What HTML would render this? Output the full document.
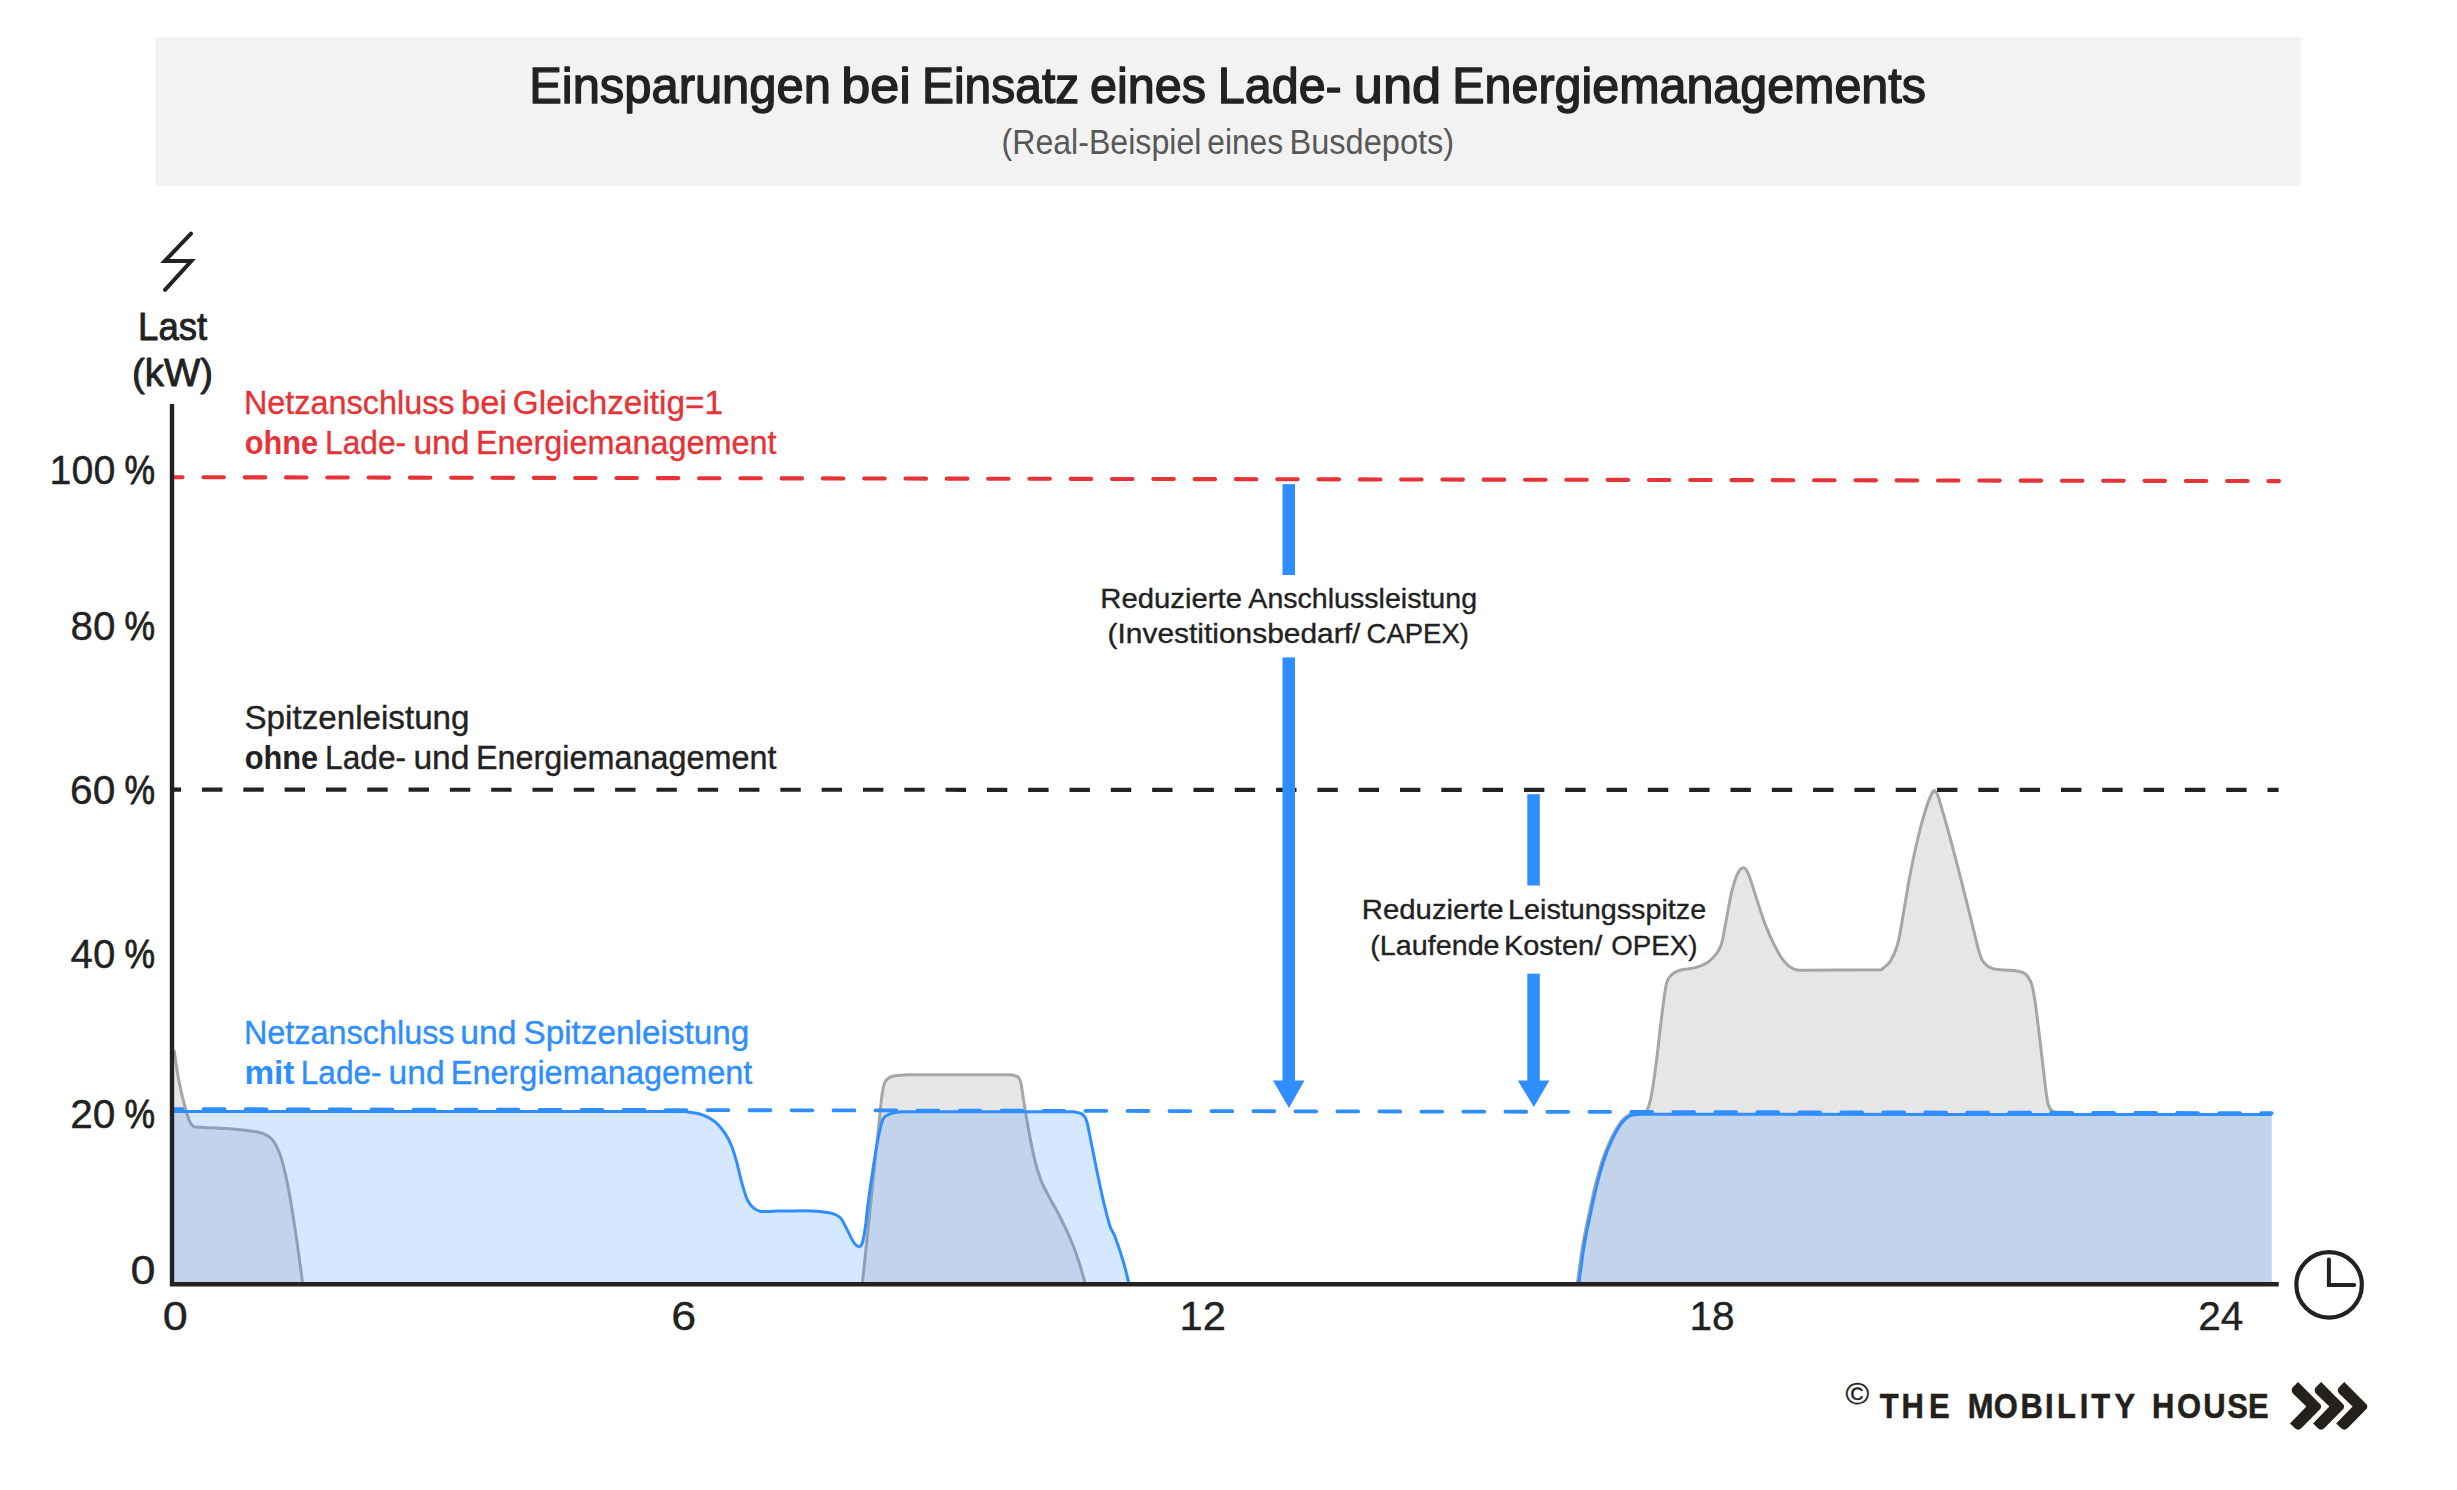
<!DOCTYPE html>
<html lang="de">
<head>
<meta charset="utf-8">
<title>Einsparungen bei Einsatz eines Lade- und Energiemanagements</title>
<style>
html,body{margin:0;padding:0;background:#ffffff;}
body{width:2457px;height:1490px;overflow:hidden;}
svg{display:block;}
text{font-family:"Liberation Sans",sans-serif;}
</style>
</head>
<body>
<svg width="2457" height="1490" viewBox="0 0 2457 1490">
<rect x="155.5" y="37" width="2145.5" height="149" fill="#f2f2f2"/>
<path d="M174.1,1050.1 C174.9,1055.1 176.9,1070.5 178.8,1080.2 C180.7,1089.9 183.5,1101.3 185.4,1108.3 C187.3,1115.3 188.7,1119.3 190.1,1122.4 C191.5,1125.5 193.2,1126.1 193.8,1126.8 C199.1,1127.1 216.4,1127.9 225.8,1128.6 C235.2,1129.3 243.9,1130.1 250.2,1130.9 C256.5,1131.8 259.6,1132.1 263.4,1133.7 C267.2,1135.3 270.0,1136.7 272.8,1140.3 C275.6,1143.9 277.8,1147.8 280.3,1155.3 C282.8,1162.8 285.3,1172.9 287.8,1185.4 C290.3,1197.9 292.9,1214.4 295.3,1230.5 C297.8,1246.6 301.3,1273.6 302.5,1282.2 L302.5,1282.2 L174.1,1282.2 Z" fill="#e6e6e6" stroke="none"/>
<path d="M174.1,1050.1 C174.9,1055.1 176.9,1070.5 178.8,1080.2 C180.7,1089.9 183.5,1101.3 185.4,1108.3 C187.3,1115.3 188.7,1119.3 190.1,1122.4 C191.5,1125.5 193.2,1126.1 193.8,1126.8 C199.1,1127.1 216.4,1127.9 225.8,1128.6 C235.2,1129.3 243.9,1130.1 250.2,1130.9 C256.5,1131.8 259.6,1132.1 263.4,1133.7 C267.2,1135.3 270.0,1136.7 272.8,1140.3 C275.6,1143.9 277.8,1147.8 280.3,1155.3 C282.8,1162.8 285.3,1172.9 287.8,1185.4 C290.3,1197.9 292.9,1214.4 295.3,1230.5 C297.8,1246.6 301.3,1273.6 302.5,1282.2" fill="none" stroke="#a6a6a6" stroke-width="3" stroke-linejoin="round"/>

<path d="M862.5,1282.2 C863.8,1270.1 867.7,1232.4 870.1,1209.4 C872.5,1186.4 875.0,1161.6 876.8,1144.0 C878.6,1126.4 879.9,1113.4 881.0,1103.7 C882.1,1094.0 882.5,1090.1 883.5,1086.1 C884.5,1082.0 885.1,1081.1 886.8,1079.4 C888.5,1077.7 890.2,1076.8 893.6,1076.0 C897.0,1075.2 904.8,1075.0 907.0,1074.8 C923.8,1074.8 990.9,1074.8 1007.7,1074.8 C1008.9,1074.9 1013.1,1075.0 1015.0,1075.6 C1016.9,1076.2 1018.2,1076.9 1019.3,1078.5 C1020.3,1080.1 1020.6,1081.4 1021.3,1085.0 C1022.0,1088.6 1022.5,1093.5 1023.6,1100.3 C1024.7,1107.0 1026.0,1115.7 1027.8,1125.5 C1029.6,1135.3 1032.3,1149.9 1034.5,1159.1 C1036.7,1168.3 1038.7,1174.5 1041.2,1180.9 C1043.7,1187.3 1046.2,1191.3 1049.6,1197.7 C1052.9,1204.1 1057.7,1212.2 1061.3,1219.5 C1064.9,1226.8 1068.3,1233.8 1071.4,1241.3 C1074.5,1248.8 1077.6,1258.0 1079.8,1264.8 C1082.0,1271.6 1084.0,1279.3 1084.8,1282.2 L1084.8,1282.2 L862.5,1282.2 Z" fill="#e6e6e6" stroke="none"/>
<path d="M862.5,1282.2 C863.8,1270.1 867.7,1232.4 870.1,1209.4 C872.5,1186.4 875.0,1161.6 876.8,1144.0 C878.6,1126.4 879.9,1113.4 881.0,1103.7 C882.1,1094.0 882.5,1090.1 883.5,1086.1 C884.5,1082.0 885.1,1081.1 886.8,1079.4 C888.5,1077.7 890.2,1076.8 893.6,1076.0 C897.0,1075.2 904.8,1075.0 907.0,1074.8 C923.8,1074.8 990.9,1074.8 1007.7,1074.8 C1008.9,1074.9 1013.1,1075.0 1015.0,1075.6 C1016.9,1076.2 1018.2,1076.9 1019.3,1078.5 C1020.3,1080.1 1020.6,1081.4 1021.3,1085.0 C1022.0,1088.6 1022.5,1093.5 1023.6,1100.3 C1024.7,1107.0 1026.0,1115.7 1027.8,1125.5 C1029.6,1135.3 1032.3,1149.9 1034.5,1159.1 C1036.7,1168.3 1038.7,1174.5 1041.2,1180.9 C1043.7,1187.3 1046.2,1191.3 1049.6,1197.7 C1052.9,1204.1 1057.7,1212.2 1061.3,1219.5 C1064.9,1226.8 1068.3,1233.8 1071.4,1241.3 C1074.5,1248.8 1077.6,1258.0 1079.8,1264.8 C1082.0,1271.6 1084.0,1279.3 1084.8,1282.2" fill="none" stroke="#a6a6a6" stroke-width="3" stroke-linejoin="round"/>

<path d="M1577.5,1282.2 C1578.4,1276.0 1580.8,1256.8 1582.7,1245.3 C1584.6,1233.8 1586.9,1223.3 1589.1,1213.1 C1591.2,1202.9 1593.2,1193.5 1595.6,1184.1 C1598.0,1174.7 1600.9,1164.5 1603.6,1156.7 C1606.3,1148.9 1609.0,1142.8 1611.7,1137.3 C1614.4,1131.8 1617.2,1127.1 1619.7,1123.6 C1622.2,1120.1 1624.1,1118.3 1626.5,1116.5 C1628.9,1114.7 1631.4,1113.3 1634.0,1112.5 C1636.6,1111.7 1639.8,1111.8 1642.0,1111.5 C1644.2,1111.2 1645.3,1113.6 1646.9,1110.6 C1648.5,1107.6 1650.1,1102.2 1651.7,1093.7 C1653.3,1085.2 1655.0,1072.4 1656.6,1059.9 C1658.2,1047.4 1659.8,1031.3 1661.4,1018.8 C1663.0,1006.3 1664.6,992.2 1666.2,985.0 C1667.8,977.8 1668.7,977.8 1671.1,975.3 C1673.5,972.8 1676.7,971.3 1680.7,970.0 C1684.7,968.7 1690.4,969.1 1695.2,967.6 C1700.0,966.1 1705.5,964.3 1709.7,960.8 C1713.9,957.2 1718.0,952.3 1720.6,946.3 C1723.2,940.3 1723.6,933.5 1725.4,924.6 C1727.2,915.8 1729.4,901.7 1731.4,893.2 C1733.4,884.8 1735.5,878.1 1737.5,873.9 C1739.5,869.7 1741.7,867.8 1743.5,867.8 C1745.3,867.8 1746.4,869.3 1748.4,873.9 C1750.4,878.5 1752.8,887.1 1755.6,895.6 C1758.4,904.1 1762.1,916.2 1765.3,924.6 C1768.5,933.0 1771.7,940.1 1774.9,946.3 C1778.1,952.5 1781.4,958.2 1784.6,962.0 C1787.8,965.8 1791.1,967.9 1794.3,969.3 C1797.5,970.7 1802.3,970.1 1803.9,970.2 C1816.8,970.1 1868.3,969.9 1881.2,969.8 C1882.8,968.3 1887.8,965.3 1890.5,961.0 C1893.2,956.7 1895.6,951.7 1897.7,944.0 C1899.8,936.3 1901.2,926.3 1903.2,915.0 C1905.2,903.7 1907.4,888.7 1909.8,876.0 C1912.2,863.3 1915.1,850.0 1917.7,839.0 C1920.3,828.0 1923.3,817.3 1925.6,809.8 C1927.9,802.3 1930.0,797.2 1931.5,794.0 C1933.0,790.8 1933.9,791.1 1934.4,790.5 C1934.9,791.1 1936.3,792.2 1937.2,794.0 C1938.1,795.8 1937.7,794.5 1939.7,801.4 C1941.7,808.3 1945.8,821.9 1949.4,835.2 C1953.0,848.5 1957.6,866.2 1961.4,881.1 C1965.2,896.0 1969.3,912.5 1972.3,924.6 C1975.3,936.7 1977.6,947.2 1979.6,953.6 C1981.6,960.0 1982.2,960.7 1984.4,963.2 C1986.6,965.7 1989.5,967.5 1992.9,968.6 C1996.3,969.7 2000.9,969.6 2004.9,970.0 C2008.9,970.4 2013.6,970.3 2017.0,971.0 C2020.4,971.7 2023.1,972.0 2025.5,974.1 C2027.9,976.2 2029.9,979.2 2031.5,983.8 C2033.1,988.4 2033.7,992.4 2035.1,1001.9 C2036.5,1011.4 2038.4,1027.2 2040.0,1040.5 C2041.6,1053.8 2043.5,1071.1 2044.8,1081.6 C2046.1,1092.1 2046.7,1098.4 2047.9,1103.3 C2049.1,1108.2 2050.0,1109.3 2052.0,1111.0 C2054.0,1112.7 2058.7,1113.1 2060.0,1113.5 C2095.3,1113.7 2236.4,1114.3 2271.7,1114.5 C2271.7,1142.5 2271.7,1254.2 2271.7,1282.2 L2271.7,1282.2 L1577.5,1282.2 Z" fill="#e6e6e6" stroke="none"/>
<path d="M1577.5,1282.2 C1578.4,1276.0 1580.8,1256.8 1582.7,1245.3 C1584.6,1233.8 1586.9,1223.3 1589.1,1213.1 C1591.2,1202.9 1593.2,1193.5 1595.6,1184.1 C1598.0,1174.7 1600.9,1164.5 1603.6,1156.7 C1606.3,1148.9 1609.0,1142.8 1611.7,1137.3 C1614.4,1131.8 1617.2,1127.1 1619.7,1123.6 C1622.2,1120.1 1624.1,1118.3 1626.5,1116.5 C1628.9,1114.7 1631.4,1113.3 1634.0,1112.5 C1636.6,1111.7 1639.8,1111.8 1642.0,1111.5 C1644.2,1111.2 1645.3,1113.6 1646.9,1110.6 C1648.5,1107.6 1650.1,1102.2 1651.7,1093.7 C1653.3,1085.2 1655.0,1072.4 1656.6,1059.9 C1658.2,1047.4 1659.8,1031.3 1661.4,1018.8 C1663.0,1006.3 1664.6,992.2 1666.2,985.0 C1667.8,977.8 1668.7,977.8 1671.1,975.3 C1673.5,972.8 1676.7,971.3 1680.7,970.0 C1684.7,968.7 1690.4,969.1 1695.2,967.6 C1700.0,966.1 1705.5,964.3 1709.7,960.8 C1713.9,957.2 1718.0,952.3 1720.6,946.3 C1723.2,940.3 1723.6,933.5 1725.4,924.6 C1727.2,915.8 1729.4,901.7 1731.4,893.2 C1733.4,884.8 1735.5,878.1 1737.5,873.9 C1739.5,869.7 1741.7,867.8 1743.5,867.8 C1745.3,867.8 1746.4,869.3 1748.4,873.9 C1750.4,878.5 1752.8,887.1 1755.6,895.6 C1758.4,904.1 1762.1,916.2 1765.3,924.6 C1768.5,933.0 1771.7,940.1 1774.9,946.3 C1778.1,952.5 1781.4,958.2 1784.6,962.0 C1787.8,965.8 1791.1,967.9 1794.3,969.3 C1797.5,970.7 1802.3,970.1 1803.9,970.2 C1816.8,970.1 1868.3,969.9 1881.2,969.8 C1882.8,968.3 1887.8,965.3 1890.5,961.0 C1893.2,956.7 1895.6,951.7 1897.7,944.0 C1899.8,936.3 1901.2,926.3 1903.2,915.0 C1905.2,903.7 1907.4,888.7 1909.8,876.0 C1912.2,863.3 1915.1,850.0 1917.7,839.0 C1920.3,828.0 1923.3,817.3 1925.6,809.8 C1927.9,802.3 1930.0,797.2 1931.5,794.0 C1933.0,790.8 1933.9,791.1 1934.4,790.5 C1934.9,791.1 1936.3,792.2 1937.2,794.0 C1938.1,795.8 1937.7,794.5 1939.7,801.4 C1941.7,808.3 1945.8,821.9 1949.4,835.2 C1953.0,848.5 1957.6,866.2 1961.4,881.1 C1965.2,896.0 1969.3,912.5 1972.3,924.6 C1975.3,936.7 1977.6,947.2 1979.6,953.6 C1981.6,960.0 1982.2,960.7 1984.4,963.2 C1986.6,965.7 1989.5,967.5 1992.9,968.6 C1996.3,969.7 2000.9,969.6 2004.9,970.0 C2008.9,970.4 2013.6,970.3 2017.0,971.0 C2020.4,971.7 2023.1,972.0 2025.5,974.1 C2027.9,976.2 2029.9,979.2 2031.5,983.8 C2033.1,988.4 2033.7,992.4 2035.1,1001.9 C2036.5,1011.4 2038.4,1027.2 2040.0,1040.5 C2041.6,1053.8 2043.5,1071.1 2044.8,1081.6 C2046.1,1092.1 2046.7,1098.4 2047.9,1103.3 C2049.1,1108.2 2050.0,1109.3 2052.0,1111.0 C2054.0,1112.7 2058.7,1113.1 2060.0,1113.5" fill="none" stroke="#a6a6a6" stroke-width="3" stroke-linejoin="round"/>

<path d="M174.2,1111.5 C259.4,1111.5 600.0,1111.5 685.2,1111.5 C688.0,1112.0 696.9,1112.8 701.9,1114.6 C706.9,1116.4 711.5,1118.9 715.4,1122.1 C719.3,1125.3 722.6,1129.7 725.4,1133.9 C728.2,1138.1 730.1,1142.3 732.1,1147.3 C734.1,1152.3 735.5,1157.9 737.2,1164.1 C738.9,1170.2 740.5,1178.3 742.2,1184.2 C743.9,1190.1 745.4,1195.4 747.2,1199.3 C749.0,1203.2 750.9,1205.7 753.1,1207.7 C755.4,1209.7 756.7,1210.8 760.7,1211.4 C764.8,1212.0 770.4,1211.2 777.4,1211.1 C784.4,1211.0 795.6,1210.7 802.6,1210.7 C809.6,1210.8 814.4,1210.9 819.4,1211.4 C824.4,1211.9 829.3,1212.5 832.8,1213.6 C836.3,1214.7 838.2,1215.4 840.4,1217.8 C842.6,1220.2 844.1,1224.0 846.2,1227.9 C848.3,1231.8 851.0,1238.2 853.0,1241.3 C855.0,1244.4 857.0,1246.3 858.5,1246.6 C860.0,1246.9 861.0,1246.4 862.2,1243.0 C863.4,1239.6 864.5,1233.2 865.5,1226.2 C866.5,1219.2 866.7,1213.6 868.4,1201.0 C870.1,1188.4 873.8,1163.3 875.9,1150.7 C878.0,1138.1 879.6,1131.1 881.0,1125.5 C882.4,1119.9 882.2,1119.2 884.3,1117.1 C886.4,1115.0 890.4,1113.8 893.6,1112.9 C896.8,1112.0 901.7,1111.9 903.3,1111.7 C931.6,1111.7 1044.8,1111.7 1073.1,1111.7 C1074.5,1112.0 1079.3,1112.3 1081.5,1113.8 C1083.7,1115.3 1084.8,1115.5 1086.5,1120.5 C1088.2,1125.5 1089.5,1134.5 1091.5,1144.0 C1093.5,1153.5 1096.0,1166.9 1098.3,1177.5 C1100.5,1188.1 1103.0,1199.6 1105.0,1207.7 C1107.0,1215.8 1108.5,1221.7 1110.0,1226.2 C1111.5,1230.7 1113.5,1233.2 1114.2,1234.6 C1115.2,1237.4 1118.3,1245.7 1120.1,1251.3 C1121.9,1256.9 1123.7,1262.9 1125.1,1268.1 C1126.5,1273.2 1128.0,1279.8 1128.6,1282.2 L1128.6,1282.2 L174.2,1282.2 Z" fill="#2e8eff" fill-opacity="0.2" stroke="none"/>
<path d="M174.2,1111.5 C259.4,1111.5 600.0,1111.5 685.2,1111.5 C688.0,1112.0 696.9,1112.8 701.9,1114.6 C706.9,1116.4 711.5,1118.9 715.4,1122.1 C719.3,1125.3 722.6,1129.7 725.4,1133.9 C728.2,1138.1 730.1,1142.3 732.1,1147.3 C734.1,1152.3 735.5,1157.9 737.2,1164.1 C738.9,1170.2 740.5,1178.3 742.2,1184.2 C743.9,1190.1 745.4,1195.4 747.2,1199.3 C749.0,1203.2 750.9,1205.7 753.1,1207.7 C755.4,1209.7 756.7,1210.8 760.7,1211.4 C764.8,1212.0 770.4,1211.2 777.4,1211.1 C784.4,1211.0 795.6,1210.7 802.6,1210.7 C809.6,1210.8 814.4,1210.9 819.4,1211.4 C824.4,1211.9 829.3,1212.5 832.8,1213.6 C836.3,1214.7 838.2,1215.4 840.4,1217.8 C842.6,1220.2 844.1,1224.0 846.2,1227.9 C848.3,1231.8 851.0,1238.2 853.0,1241.3 C855.0,1244.4 857.0,1246.3 858.5,1246.6 C860.0,1246.9 861.0,1246.4 862.2,1243.0 C863.4,1239.6 864.5,1233.2 865.5,1226.2 C866.5,1219.2 866.7,1213.6 868.4,1201.0 C870.1,1188.4 873.8,1163.3 875.9,1150.7 C878.0,1138.1 879.6,1131.1 881.0,1125.5 C882.4,1119.9 882.2,1119.2 884.3,1117.1 C886.4,1115.0 890.4,1113.8 893.6,1112.9 C896.8,1112.0 901.7,1111.9 903.3,1111.7 C931.6,1111.7 1044.8,1111.7 1073.1,1111.7 C1074.5,1112.0 1079.3,1112.3 1081.5,1113.8 C1083.7,1115.3 1084.8,1115.5 1086.5,1120.5 C1088.2,1125.5 1089.5,1134.5 1091.5,1144.0 C1093.5,1153.5 1096.0,1166.9 1098.3,1177.5 C1100.5,1188.1 1103.0,1199.6 1105.0,1207.7 C1107.0,1215.8 1108.5,1221.7 1110.0,1226.2 C1111.5,1230.7 1113.5,1233.2 1114.2,1234.6 C1115.2,1237.4 1118.3,1245.7 1120.1,1251.3 C1121.9,1256.9 1123.7,1262.9 1125.1,1268.1 C1126.5,1273.2 1128.0,1279.8 1128.6,1282.2" fill="none" stroke="#2e8eff" stroke-width="3" stroke-linejoin="round"/>

<path d="M1579.0,1282.2 C1579.9,1276.0 1582.3,1256.8 1584.2,1245.3 C1586.1,1233.8 1588.4,1223.3 1590.6,1213.1 C1592.8,1202.9 1594.7,1193.5 1597.1,1184.1 C1599.5,1174.7 1602.4,1164.5 1605.1,1156.7 C1607.8,1148.9 1610.5,1142.8 1613.2,1137.3 C1615.9,1131.8 1618.8,1126.9 1621.2,1123.6 C1623.6,1120.2 1625.6,1118.7 1627.7,1117.2 C1629.8,1115.7 1631.2,1115.3 1634.1,1114.8 C1637.0,1114.3 1643.2,1114.4 1645.0,1114.3 C1749.5,1114.3 2167.2,1114.5 2271.7,1114.6 C2271.7,1142.5 2271.7,1254.3 2271.7,1282.2 L2271.7,1282.2 L1579.0,1282.2 Z" fill="#2e8eff" fill-opacity="0.2" stroke="none"/>
<path d="M1579.0,1282.2 C1579.9,1276.0 1582.3,1256.8 1584.2,1245.3 C1586.1,1233.8 1588.4,1223.3 1590.6,1213.1 C1592.8,1202.9 1594.7,1193.5 1597.1,1184.1 C1599.5,1174.7 1602.4,1164.5 1605.1,1156.7 C1607.8,1148.9 1610.5,1142.8 1613.2,1137.3 C1615.9,1131.8 1618.8,1126.9 1621.2,1123.6 C1623.6,1120.2 1625.6,1118.7 1627.7,1117.2 C1629.8,1115.7 1631.2,1115.3 1634.1,1114.8 C1637.0,1114.3 1643.2,1114.4 1645.0,1114.3 C1749.5,1114.3 2167.2,1114.5 2271.7,1114.6" fill="none" stroke="#2e8eff" stroke-width="3" stroke-linejoin="round"/>

<path d="M172,789.7 L2278.6,789.9" stroke="#222222" stroke-width="4.2" stroke-dasharray="20.4 20.91" stroke-dashoffset="11.3" fill="none"/>
<path d="M172,477.2 L2279,481.1" stroke="#e53337" stroke-width="4.1" stroke-dasharray="20.5 20.8" stroke-dashoffset="9.9" stroke-linecap="round" fill="none"/>
<path d="M174,1109.1 L2271.6,1113.2" stroke="#2e8eff" stroke-width="3.8" stroke-dasharray="20.8 21.19" stroke-dashoffset="12.3" stroke-linecap="round" fill="none"/>
<rect x="1282.5" y="484.2" width="12.5" height="90.8" fill="#2e8eff"/><rect x="1282.5" y="657.4" width="12.5" height="423.6" fill="#2e8eff"/><path d="M1272.9,1080.5 L1304.5,1080.5 L1289.0,1108 Z" fill="#2e8eff"/>
<rect x="1527.3" y="794.2" width="12.5" height="91.3" fill="#2e8eff"/><rect x="1527.3" y="973.7" width="12.5" height="107.3" fill="#2e8eff"/><path d="M1517.8,1080.5 L1549.4,1080.5 L1533.9,1107.1 Z" fill="#2e8eff"/>
<path d="M172,404 L172,1284.2 L2278.7,1284.2" fill="none" stroke="#222222" stroke-width="4.4" stroke-linejoin="miter"/>
<path d="M191,233.6 L164.8,261 L191.3,261 L165,289.8" fill="none" stroke="#222222" stroke-width="4" stroke-linecap="round" stroke-linejoin="miter"/>
<circle cx="2329.1" cy="1284.8" r="32.75" fill="none" stroke="#222222" stroke-width="4.2"/>
<path d="M2328.9,1259.5 L2328.9,1285 L2354.2,1285" fill="none" stroke="#222222" stroke-width="4" stroke-linecap="round" stroke-linejoin="miter"/>
<path d="M2298.1,1382 L2319,1403 Q2323.4,1406.6 2319,1410.2 L2301.5,1428 Q2298.1,1431.5 2294.7,1428 L2290,1423.5 L2306.4,1406.6 L2292.9,1393.6 Q2290.3,1390.3 2293,1387.1 Z" transform="translate(0,0)" fill="#24211d"/>
<path d="M2298.1,1382 L2319,1403 Q2323.4,1406.6 2319,1410.2 L2301.5,1428 Q2298.1,1431.5 2294.7,1428 L2290,1423.5 L2306.4,1406.6 L2292.9,1393.6 Q2290.3,1390.3 2293,1387.1 Z" transform="translate(23,0)" fill="#24211d"/>
<path d="M2298.1,1382 L2319,1403 Q2323.4,1406.6 2319,1410.2 L2301.5,1428 Q2298.1,1431.5 2294.7,1428 L2290,1423.5 L2306.4,1406.6 L2292.9,1393.6 Q2290.3,1390.3 2293,1387.1 Z" transform="translate(46.2,0)" fill="#24211d"/>
<g>
<text x="529.19" y="102.60" font-size="50.2" textLength="301.69" lengthAdjust="spacingAndGlyphs" fill="#222" stroke="#222222" stroke-width="1.4" stroke-linejoin="round">Einsparungen</text>
<text x="841.34" y="102.60" font-size="50.2" textLength="69.57" lengthAdjust="spacingAndGlyphs" fill="#222" stroke="#222222" stroke-width="1.4" stroke-linejoin="round">bei</text>
<text x="921.97" y="102.60" font-size="50.2" textLength="157.22" lengthAdjust="spacingAndGlyphs" fill="#222" stroke="#222222" stroke-width="1.4" stroke-linejoin="round">Einsatz</text>
<text x="1089.94" y="102.60" font-size="50.2" textLength="116.02" lengthAdjust="spacingAndGlyphs" fill="#222" stroke="#222222" stroke-width="1.4" stroke-linejoin="round">eines</text>
<text x="1217.82" y="102.60" font-size="50.2" textLength="123.93" lengthAdjust="spacingAndGlyphs" fill="#222" stroke="#222222" stroke-width="1.4" stroke-linejoin="round">Lade-</text>
<text x="1353.80" y="102.60" font-size="50.2" textLength="87.38" lengthAdjust="spacingAndGlyphs" fill="#222" stroke="#222222" stroke-width="1.4" stroke-linejoin="round">und</text>
<text x="1452.33" y="102.60" font-size="50.2" textLength="473.62" lengthAdjust="spacingAndGlyphs" fill="#222" stroke="#222222" stroke-width="1.4" stroke-linejoin="round">Energiemanagements</text>
<text x="1001.51" y="153.70" font-size="34.2" textLength="199.94" lengthAdjust="spacingAndGlyphs" fill="#585858">(Real-Beispiel</text>
<text x="1207.25" y="153.70" font-size="34.2" textLength="75.79" lengthAdjust="spacingAndGlyphs" fill="#585858">eines</text>
<text x="1289.53" y="153.70" font-size="34.2" textLength="164.69" lengthAdjust="spacingAndGlyphs" fill="#585858">Busdepots)</text>
<text x="138.10" y="340.40" font-size="39" textLength="69.06" lengthAdjust="spacingAndGlyphs" fill="#222" stroke="#222222" stroke-width="0.9" stroke-linejoin="round">Last</text>
<text x="132.02" y="385.50" font-size="39" textLength="80.96" lengthAdjust="spacingAndGlyphs" fill="#222" stroke="#222222" stroke-width="0.9" stroke-linejoin="round">(kW)</text>
<text x="49.60" y="484.00" font-size="40.3" textLength="65.74" lengthAdjust="spacingAndGlyphs" fill="#222" stroke="#222" stroke-width="0.35">100</text>
<text x="124.38" y="484.00" font-size="40.3" textLength="30.55" lengthAdjust="spacingAndGlyphs" fill="#222" stroke="#222" stroke-width="0.8">%</text>
<text x="70.44" y="640.30" font-size="40.3" textLength="44.93" lengthAdjust="spacingAndGlyphs" fill="#222" stroke="#222" stroke-width="0.35">80</text>
<text x="124.38" y="640.30" font-size="40.3" textLength="30.55" lengthAdjust="spacingAndGlyphs" fill="#222" stroke="#222" stroke-width="0.8">%</text>
<text x="70.13" y="804.40" font-size="40.3" textLength="45.26" lengthAdjust="spacingAndGlyphs" fill="#222" stroke="#222" stroke-width="0.35">60</text>
<text x="124.38" y="804.40" font-size="40.3" textLength="30.55" lengthAdjust="spacingAndGlyphs" fill="#222" stroke="#222" stroke-width="0.8">%</text>
<text x="70.58" y="968.00" font-size="40.3" textLength="44.80" lengthAdjust="spacingAndGlyphs" fill="#222" stroke="#222" stroke-width="0.35">40</text>
<text x="124.38" y="968.00" font-size="40.3" textLength="30.55" lengthAdjust="spacingAndGlyphs" fill="#222" stroke="#222" stroke-width="0.8">%</text>
<text x="70.15" y="1128.20" font-size="40.3" textLength="45.23" lengthAdjust="spacingAndGlyphs" fill="#222" stroke="#222" stroke-width="0.35">20</text>
<text x="124.38" y="1128.20" font-size="40.3" textLength="30.55" lengthAdjust="spacingAndGlyphs" fill="#222" stroke="#222" stroke-width="0.8">%</text>
<text x="130.44" y="1283.50" font-size="40.3" textLength="25.01" lengthAdjust="spacingAndGlyphs" fill="#222" stroke="#222" stroke-width="0.35">0</text>
<text x="162.74" y="1330.00" font-size="40.3" textLength="25.01" lengthAdjust="spacingAndGlyphs" fill="#222" stroke="#222" stroke-width="0.35">0</text>
<text x="671.22" y="1330.00" font-size="40.3" textLength="24.95" lengthAdjust="spacingAndGlyphs" fill="#222" stroke="#222" stroke-width="0.35">6</text>
<text x="1179.62" y="1330.00" font-size="40.3" textLength="46.37" lengthAdjust="spacingAndGlyphs" fill="#222" stroke="#222" stroke-width="0.35">12</text>
<text x="1689.51" y="1330.00" font-size="40.3" textLength="45.16" lengthAdjust="spacingAndGlyphs" fill="#222" stroke="#222" stroke-width="0.35">18</text>
<text x="2198.26" y="1330.00" font-size="40.3" textLength="45.13" lengthAdjust="spacingAndGlyphs" fill="#222" stroke="#222" stroke-width="0.35">24</text>
<text x="243.94" y="413.60" font-size="32.3" textLength="210.63" lengthAdjust="spacingAndGlyphs" fill="#e53337" stroke="#e53337" stroke-width="0.35">Netzanschluss</text>
<text x="460.98" y="413.60" font-size="32.3" textLength="46.05" lengthAdjust="spacingAndGlyphs" fill="#e53337" stroke="#e53337" stroke-width="0.35">bei</text>
<text x="512.83" y="413.60" font-size="32.3" textLength="210.10" lengthAdjust="spacingAndGlyphs" fill="#e53337" stroke="#e53337" stroke-width="0.35">Gleichzeitig=1</text>
<text x="244.70" y="453.60" font-size="32.3" textLength="73.56" lengthAdjust="spacingAndGlyphs" fill="#e53337" font-weight="bold">ohne</text>
<text x="325.11" y="453.60" font-size="32.3" textLength="80.90" lengthAdjust="spacingAndGlyphs" fill="#e53337" stroke="#e53337" stroke-width="0.35">Lade-</text>
<text x="413.41" y="453.60" font-size="32.3" textLength="56.16" lengthAdjust="spacingAndGlyphs" fill="#e53337" stroke="#e53337" stroke-width="0.35">und</text>
<text x="475.94" y="453.60" font-size="32.3" textLength="300.59" lengthAdjust="spacingAndGlyphs" fill="#e53337" stroke="#e53337" stroke-width="0.35">Energiemanagement</text>
<text x="244.49" y="729.00" font-size="32.3" textLength="225.05" lengthAdjust="spacingAndGlyphs" fill="#222" stroke="#222" stroke-width="0.35">Spitzenleistung</text>
<text x="244.70" y="768.60" font-size="32.3" textLength="73.56" lengthAdjust="spacingAndGlyphs" fill="#222" font-weight="bold">ohne</text>
<text x="325.11" y="768.60" font-size="32.3" textLength="80.90" lengthAdjust="spacingAndGlyphs" fill="#222" stroke="#222" stroke-width="0.35">Lade-</text>
<text x="413.41" y="768.60" font-size="32.3" textLength="56.16" lengthAdjust="spacingAndGlyphs" fill="#222" stroke="#222" stroke-width="0.35">und</text>
<text x="475.94" y="768.60" font-size="32.3" textLength="300.59" lengthAdjust="spacingAndGlyphs" fill="#222" stroke="#222" stroke-width="0.35">Energiemanagement</text>
<text x="243.94" y="1043.60" font-size="32.3" textLength="210.63" lengthAdjust="spacingAndGlyphs" fill="#2e8eff" stroke="#2e8eff" stroke-width="0.35">Netzanschluss</text>
<text x="460.31" y="1043.60" font-size="32.3" textLength="56.37" lengthAdjust="spacingAndGlyphs" fill="#2e8eff" stroke="#2e8eff" stroke-width="0.35">und</text>
<text x="523.49" y="1043.60" font-size="32.3" textLength="225.86" lengthAdjust="spacingAndGlyphs" fill="#2e8eff" stroke="#2e8eff" stroke-width="0.35">Spitzenleistung</text>
<text x="244.40" y="1083.60" font-size="32.3" textLength="50.00" lengthAdjust="spacingAndGlyphs" fill="#2e8eff" font-weight="bold">mit</text>
<text x="300.71" y="1083.60" font-size="32.3" textLength="80.90" lengthAdjust="spacingAndGlyphs" fill="#2e8eff" stroke="#2e8eff" stroke-width="0.35">Lade-</text>
<text x="388.51" y="1083.60" font-size="32.3" textLength="56.16" lengthAdjust="spacingAndGlyphs" fill="#2e8eff" stroke="#2e8eff" stroke-width="0.35">und</text>
<text x="450.73" y="1083.60" font-size="32.3" textLength="301.60" lengthAdjust="spacingAndGlyphs" fill="#2e8eff" stroke="#2e8eff" stroke-width="0.35">Energiemanagement</text>
<text x="1100.30" y="607.90" font-size="27.6" textLength="141.71" lengthAdjust="spacingAndGlyphs" fill="#222" stroke="#222" stroke-width="0.35">Reduzierte</text>
<text x="1248.34" y="607.90" font-size="27.6" textLength="228.70" lengthAdjust="spacingAndGlyphs" fill="#222" stroke="#222" stroke-width="0.35">Anschlussleistung</text>
<text x="1107.54" y="642.90" font-size="27.6" textLength="252.76" lengthAdjust="spacingAndGlyphs" fill="#222" stroke="#222" stroke-width="0.35">(Investitionsbedarf/</text>
<text x="1366.60" y="642.90" font-size="27.6" textLength="102.30" lengthAdjust="spacingAndGlyphs" fill="#222" stroke="#222" stroke-width="0.35">CAPEX)</text>
<text x="1361.79" y="918.60" font-size="27.6" textLength="141.91" lengthAdjust="spacingAndGlyphs" fill="#222" stroke="#222" stroke-width="0.35">Reduzierte</text>
<text x="1508.04" y="918.60" font-size="27.6" textLength="198.14" lengthAdjust="spacingAndGlyphs" fill="#222" stroke="#222" stroke-width="0.35">Leistungsspitze</text>
<text x="1370.32" y="954.90" font-size="27.6" textLength="129.26" lengthAdjust="spacingAndGlyphs" fill="#222" stroke="#222" stroke-width="0.35">(Laufende</text>
<text x="1503.92" y="954.90" font-size="27.6" textLength="98.28" lengthAdjust="spacingAndGlyphs" fill="#222" stroke="#222" stroke-width="0.35">Kosten/</text>
<text x="1611.29" y="954.90" font-size="27.6" textLength="86.13" lengthAdjust="spacingAndGlyphs" fill="#222" stroke="#222" stroke-width="0.35">OPEX)</text>
<text x="1845.51" y="1404.00" font-size="30" textLength="23.69" lengthAdjust="spacingAndGlyphs" fill="#24211d" stroke="#24211d" stroke-width="0.35">©</text>
<text transform="scale(0.9,1)" x="2088.50 2112.81 2143.48" y="1417.90" font-size="34.4" fill="#24211d" stroke="#24211d" stroke-width="0.5" font-weight="bold">THE</text>
<text transform="scale(0.9,1)" x="2186.48 2215.37 2244.92 2272.14 2285.70 2310.70 2323.72 2349.41" y="1417.90" font-size="34.4" fill="#24211d" stroke="#24211d" stroke-width="0.5" font-weight="bold">MOBILITY</text>
<text transform="scale(0.9,1)" x="2391.14 2418.92 2447.93 2474.79 2497.70" y="1417.90" font-size="34.4" fill="#24211d" stroke="#24211d" stroke-width="0.5" font-weight="bold">HOUSE</text>
</g>
</svg>
</body>
</html>
